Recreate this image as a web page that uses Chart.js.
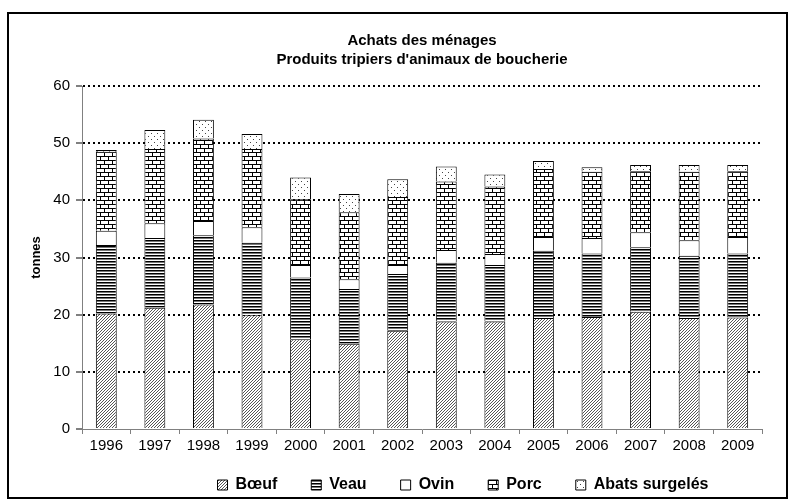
<!DOCTYPE html>
<html>
<head>
<meta charset="utf-8">
<script src="https://cdn.jsdelivr.net/npm/chart.js@4/dist/chart.umd.min.js"></script>
<style>
html, body { margin: 0; padding: 0; background: #fff; }
#wrap { width: 793px; height: 503px; }
</style>
</head>
<body>
<div id="wrap"><canvas id="chart"></canvas></div>
<script>
/* DATA */
const years = ["1996","1997","1998","1999","2000","2001","2002","2003","2004","2005","2006","2007","2008","2009"];
const boeuf = [20.2, 21.2, 21.8, 19.9, 15.7, 14.9, 17.2, 18.8, 18.8, 19.4, 19.6, 20.5, 19.4, 19.5];
const veau  = [12.0, 12.2, 12.1, 12.7, 10.8, 9.6, 9.9, 10.3, 9.9, 11.8, 11.1, 11.3, 10.9, 11.2];
const ovin  = [2.5, 2.6, 2.5, 2.7, 2.2, 1.7, 1.6, 2.2, 1.9, 2.4, 2.7, 2.6, 2.7, 2.9];
const porc  = [13.8, 13.0, 14.4, 13.7, 11.5, 11.7, 11.9, 12.0, 11.8, 11.9, 11.6, 10.7, 12.0, 11.5];
const abats = [0.3, 3.3, 3.3, 2.6, 3.8, 3.2, 3.1, 2.6, 2.1, 1.4, 0.8, 1.1, 1.2, 1.1];

const yTicks = [0, 10, 20, 30, 40, 50, 60];
const titleLines = ["Achats des ménages", "Produits tripiers d'animaux de boucherie"];

const FONT = "'Liberation Sans', Arial, sans-serif";

/* PATTERN HELPERS */
function makePattern(w, h, draw) {
  const c = document.createElement("canvas");
  c.width = w; c.height = h;
  const g = c.getContext("2d");
  g.fillStyle = "#fff";
  g.fillRect(0, 0, w, h);
  draw(g);
  return document.getElementById("chart").getContext("2d").createPattern(c, "repeat");
}

const hatch = makePattern(3, 3, g => {
  g.fillStyle = "#555";
  g.fillRect(0, 2, 1, 1);
  g.fillRect(1, 1, 1, 1);
  g.fillRect(2, 0, 1, 1);
});

const stripes = makePattern(3, 3, g => {
  g.fillStyle = "#000";
  g.fillRect(0, 0, 3, 1);
  g.fillStyle = "#777";
  g.fillRect(0, 1, 3, 1);
});

const bricks = makePattern(8, 8, g => {
  g.fillStyle = "#000";
  g.fillRect(0, 0, 8, 1);
  g.fillRect(0, 4, 8, 1);
  g.fillRect(0, 1, 1, 3);
  g.fillRect(4, 5, 1, 3);
});

const dots = makePattern(6, 6, g => {
  g.fillStyle = "#444";
  g.fillRect(1, 1, 1, 1);
  g.fillRect(4, 4, 1, 1);
});

/* OUTER FRAME, TITLE + LEGEND PLACEMENT */
const frame = {
  id: "frame",
  afterLayout(c) {
    // Excel centres title and legend over the plot area
    const a = c.chartArea;
    c.titleBlock.left = a.left;
    c.titleBlock.right = a.right;
    c.legend.left += a.left;
    c.legend.right += a.left;
    c.legend.top -= 14;
  },
  afterDraw(c) {
    const ctx = c.ctx;
    ctx.save();
    ctx.strokeStyle = "#000";
    ctx.lineWidth = 2;
    ctx.strokeRect(8, 13, 779, 485);
    ctx.restore();
  }
};

const ds = (label, data, fill) => ({
  label: label,
  data: data,
  backgroundColor: fill,
  borderColor: "#000",
  borderWidth: 1,
  barPercentage: 0.43,
  categoryPercentage: 1
});

Chart.defaults.color = "#000";
Chart.defaults.font.family = FONT;

new Chart(document.getElementById("chart"), {
  type: "bar",
  data: {
    labels: years,
    datasets: [
      ds("Bœuf", boeuf, hatch),
      ds("Veau", veau, stripes),
      ds("Ovin", ovin, "#fff"),
      ds("Porc", porc, bricks),
      ds("Abats surgelés", abats, dots)
    ]
  },
  options: {
    responsive: true,
    maintainAspectRatio: false,
    animation: false,
    layout: { padding: { left: 0, right: 31, top: 0, bottom: 0 } },
    plugins: {
      tooltip: { enabled: false },
      title: {
        display: true,
        text: titleLines,
        font: { size: 15, weight: "bold", lineHeight: 1.267 },
        padding: { top: 31, bottom: 17 }
      },
      legend: {
        position: "bottom",
        maxHeight: 46,
        labels: {
          boxWidth: 10,
          boxHeight: 10,
          padding: 34,
          font: { size: 16, weight: "bold" }
        }
      }
    },
    scales: {
      x: {
        stacked: true,
        afterFit: s => { s.height = 28; },
        grid: {
          drawOnChartArea: false,
          tickLength: 5,
          tickColor: "#808080"
        },
        border: { color: "#808080", width: 1 },
        ticks: { padding: 3, font: { size: 15 }, maxRotation: 0 }
      },
      y: {
        stacked: true,
        min: 0,
        max: 60,
        afterFit: s => { s.width = 82; },
        afterBuildTicks: s => { s.ticks = yTicks.map(v => ({ value: v })); },
        grid: {
          color: ctx => ctx.tick && ctx.tick.value === 0 ? "rgba(0,0,0,0)" : "#000",
          lineWidth: 2,
          tickLength: 6,
          tickColor: "#808080",
          tickBorderDash: []
        },
        border: { color: "#808080", width: 1, dash: [2, 3] },
        ticks: { padding: 6, font: { size: 15 } },
        title: {
          display: true,
          text: "tonnes",
          font: { size: 13, weight: "bold" },
          padding: { top: 29 }
        }
      }
    }
  },
  plugins: [frame]
});
</script>
</body>
</html>
